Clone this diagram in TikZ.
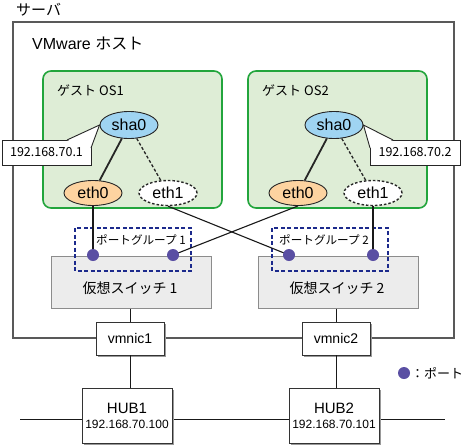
\documentclass[tikz,border=0pt]{standalone}
\usepackage{fontspec}
\setmainfont{Liberation Sans}
\newfontfamily\jp{Noto Sans CJK JP}
\usetikzlibrary{shapes.geometric,shadows}
\definecolor{gbord}{HTML}{22A53C}
\definecolor{gfill}{HTML}{DEEDD6}
\definecolor{shafill}{HTML}{9FD4F2}
\definecolor{ethfill}{HTML}{FDD3A0}
\definecolor{portc}{HTML}{5A4FA3}
\definecolor{navy}{HTML}{1C2A8C}
\definecolor{swfill}{HTML}{ECECEC}
\tikzset{
  guestbox/.style={draw=gbord,fill=gfill,line width=1.6pt,rounded corners=8pt},
  nic/.style={ellipse,draw=black!85,line width=0.9pt,minimum width=58pt,minimum height=25pt,inner sep=0pt,font=\fontsize{16}{16}\selectfont},
  shanic/.style={nic,fill=shafill,minimum height=27pt},
  ethnic/.style={nic,fill=ethfill},
  offnic/.style={nic,fill=white,dashed,line width=1.4pt,dash pattern=on 2.5pt off 2pt},
  conn/.style={draw=black!90,line width=1.1pt},
  pgbox/.style={draw=navy,dashed,line width=1.6pt,dash pattern=on 4pt off 2.5pt},
  swbox/.style={draw=black!45,fill=swfill,line width=1pt},
  port/.style={circle,fill=portc,minimum size=12pt,inner sep=0pt},
  shbox/.style={draw=black!80,fill=white,line width=0.9pt,drop shadow={shadow xshift=2pt,shadow yshift=-2pt,fill=black!40,opacity=1}},
  iptext/.style={font=\jp\fontsize{12.5}{12.5}\selectfont},
  jplabel/.style={font=\jp\fontsize{13}{13}\selectfont},
  pglabel/.style={font=\jp\fontsize{11.6}{11.6}\selectfont},
}
\begin{document}
\begin{tikzpicture}[x=1pt,y=-1pt]
\useasboundingbox[fill=white] (0,0) rectangle (470,447);
% server / host
\draw[draw=black!65,line width=1.2pt] (13,22) rectangle (454,338);
\node[anchor=west,font=\jp\fontsize{15}{15}\selectfont,inner sep=0pt] (srv) at (16,10) {サーバ};
\node[anchor=west,font=\fontsize{16}{16}\selectfont,inner sep=0pt] (host) at (32,43) {VMware {\jp ホスト}};
% guest boxes
\draw[guestbox] (43,71) rectangle (222,208);
\draw[guestbox] (248,71) rectangle (427,208);
\node[anchor=west,jplabel,inner sep=0pt] (g1) at (57,90) {ゲスト OS1};
\node[anchor=west,jplabel,inner sep=0pt] (g2) at (262,90) {ゲスト OS2};
% NICs
\node[shanic] (sha1) at (129,125) {sha0};
\node[shanic] (sha2) at (334,125) {sha0};
\node[ethnic] (eth01) at (93,193) {eth0};
\node[offnic] (eth11) at (168,193) {eth1};
\node[ethnic] (eth02) at (298,193) {eth0};
\node[offnic] (eth12) at (373,193) {eth1};
\draw[draw=black!85,line width=1.8pt] (sha1) -- (eth01);
\draw[draw=black!85,line width=1.3pt,dashed,dash pattern=on 3pt off 2pt] (sha1) -- (eth11);
\draw[draw=black!85,line width=1.8pt] (sha2) -- (eth02);
\draw[draw=black!85,line width=1.3pt,dashed,dash pattern=on 3pt off 2pt] (sha2) -- (eth12);
% callouts
\node[draw=black!85,fill=white,line width=0.9pt,minimum width=89pt,minimum height=25pt,inner sep=0pt,iptext] (ip1) at (46.5,152.5) {192.168.70.1};
\fill[white] (67,140) -- (sha1.west) -- (91,148) -- cycle;
\draw[draw=black!85,line width=0.9pt] (67,140) -- (sha1.west) -- (91,148);
\node[draw=black!85,fill=white,line width=0.9pt,minimum width=90pt,minimum height=25pt,inner sep=0pt,iptext] (ip2) at (415,152.5) {192.168.70.2};
\fill[white] (393,140) -- (sha2.east) -- (370,148) -- cycle;
\draw[draw=black!85,line width=0.9pt] (393,140) -- (sha2.east) -- (370,148);
% switches
\node[swbox,minimum width=160pt,minimum height=52pt,inner sep=0pt] (sw1) at (131,282) {};
\node[swbox,minimum width=160pt,minimum height=52pt,inner sep=0pt] (sw2) at (338,282) {};
\node[font=\jp\fontsize{14}{14}\selectfont] (sw1t) at (130,288) {仮想スイッチ 1};
\node[font=\jp\fontsize{14}{14}\selectfont] (sw2t) at (337,288) {仮想スイッチ 2};
% port groups
\draw[pgbox] (75,228) rectangle (191,271);
\draw[pgbox] (272,228) rectangle (388,271);
\node[pglabel] (pg1) at (141,240) {ポートグループ 1};
\node[pglabel] (pg2) at (324,240) {ポートグループ 2};
% connectors
\coordinate (c11) at (93,255);
\coordinate (c12) at (173,255);
\coordinate (c21) at (289,255);
\coordinate (c22) at (373,255);
\draw[conn] (eth01.south) -- (c11);
\draw[conn] (eth11.south) -- (c21);
\draw[conn] (eth02.south) -- (c12);
\draw[conn] (eth12.south) -- (c22);
% ports
\node[port] (p11) at (c11) {};
\node[port] (p12) at (c12) {};
\node[port] (p21) at (c21) {};
\node[port] (p22) at (c22) {};
% vmnics
\node[shbox,minimum width=68pt,minimum height=33pt,inner sep=0pt,font=\fontsize{14}{14}\selectfont] (vm1) at (130,338.5) {vmnic1};
\node[shbox,minimum width=68pt,minimum height=33pt,inner sep=0pt,font=\fontsize{14}{14}\selectfont] (vm2) at (336,338.5) {vmnic2};
\draw[conn,line width=1pt] (sw1.south -| vm1.north) -- (vm1.north);
\draw[conn,line width=1pt] (sw2.south -| vm2.north) -- (vm2.north);
% hubs
\coordinate (netL) at (20,419);
\coordinate (netR) at (445,419);
\draw[conn,line width=1pt] (netL) -- (netR);
\node[shbox,minimum width=90pt,minimum height=55pt,inner sep=0pt,align=center] (hub1) at (127,415.5) {{\fontsize{15}{15}\selectfont HUB1}\\[3pt]{\fontsize{12}{12}\selectfont 192.168.70.100}};
\node[shbox,minimum width=90pt,minimum height=55pt,inner sep=0pt,align=center] (hub2) at (334,415.5) {{\fontsize{15}{15}\selectfont HUB2}\\[3pt]{\fontsize{12}{12}\selectfont 192.168.70.101}};
\draw[conn,line width=1pt] (vm1.south) -- (vm1.south |- hub1.north);
\draw[conn,line width=1pt] (vm2.south) -- (vm2.south |- hub2.north);
% legend
\node[port] (lgp) at (404,373) {};
\node[anchor=west,jplabel,inner sep=0pt] (lgt) at (411,373) {：ポート};
\end{tikzpicture}
\end{document}
